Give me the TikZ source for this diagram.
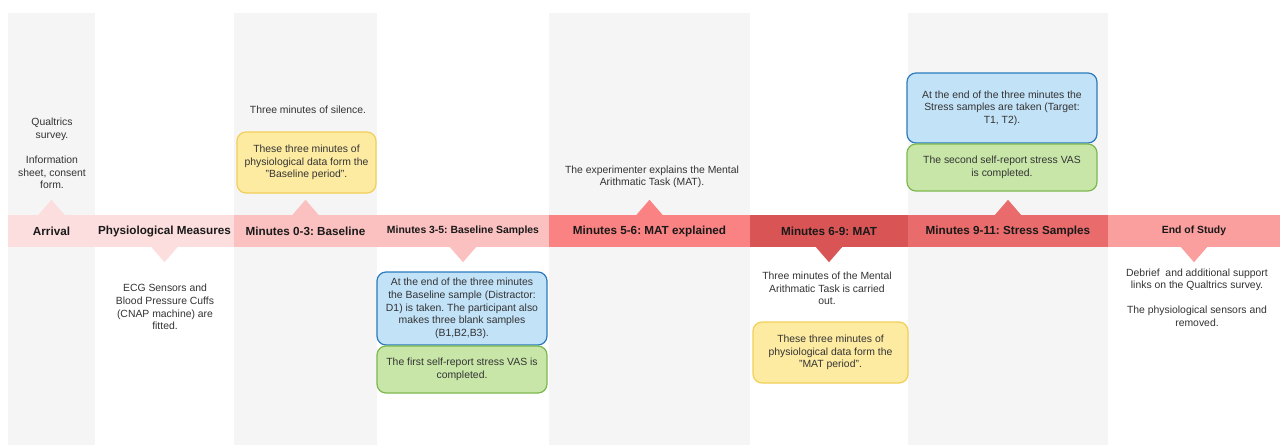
\documentclass[tikz,border=0pt]{standalone}
\usepackage{fontspec}
\setmainfont{Liberation Sans}
\frenchspacing
\definecolor{colgray}{HTML}{F5F5F5}
\definecolor{seglight}{HTML}{FDDEDE}
\definecolor{segbase}{HTML}{FBC0C0}
\definecolor{segmatexp}{HTML}{FA8282}
\definecolor{segmat}{HTML}{D95454}
\definecolor{segstress}{HTML}{E96B6B}
\definecolor{segend}{HTML}{FA9E9E}
\definecolor{bodytext}{HTML}{333333}
\definecolor{bluefill}{HTML}{C2E2F7}
\definecolor{blueline}{HTML}{2B7BBE}
\definecolor{greenfill}{HTML}{C8E6A8}
\definecolor{greenline}{HTML}{7DB84F}
\definecolor{yellowfill}{HTML}{FEEBA2}
\definecolor{yellowline}{HTML}{F3CF5A}
\begin{document}
\begin{tikzpicture}[x=1pt, y=-1pt,
    segment/.style={rectangle, inner sep=0pt, minimum height=32pt, text=black!90,
      font=\fontsize{11.7}{14}\selectfont\bfseries},
    smallseg/.style={segment, font=\fontsize{10.4}{12.6}\selectfont\bfseries},
    note/.style={align=center, text=bodytext, font=\fontsize{10.4}{12.6}\selectfont},
    notebox/.style={note, rectangle, rounded corners=9pt, line width=1.2pt, inner sep=2pt},
    yellowbox/.style={notebox, draw=yellowline, fill=yellowfill},
    bluebox/.style={notebox, draw=blueline, fill=bluefill},
    greenbox/.style={notebox, draw=greenline, fill=greenfill}]
    \useasboundingbox (0,0) rectangle (1286,445);
    \fill[white] (0,0) rectangle (1286,445);

    % Grey background columns
    \fill[colgray] (8,13) rectangle (95,445);
    \fill[colgray] (234,13) rectangle (377,445);
    \fill[colgray] (549,13) rectangle (750,445);
    \fill[colgray] (908,13) rectangle (1108,445);

    % Timeline band
    \node[segment, fill=seglight, minimum width=87pt] (arrival) at (51.5,231) {Arrival};
    \node[segment, fill=seglight, minimum width=139pt] (physio) at (164.5,231) {Physiological Measures};
    \node[segment, fill=segbase, minimum width=143pt] (baseline) at (305.5,231) {Minutes 0-3: Baseline};
    \node[smallseg, fill=segbase, minimum width=172pt] (samples) at (463,231) {Minutes 3-5: Baseline Samples};
    \node[segment, fill=segmatexp, minimum width=201pt] (matexp) at (649.5,231) {Minutes 5-6: MAT explained};
    \node[segment, fill=segmat, minimum width=158pt] (mat) at (829,231) {Minutes 6-9: MAT};
    \node[segment, fill=segstress, minimum width=200pt] (stress) at (1008,231) {Minutes 9-11: Stress Samples};
    \node[smallseg, fill=segend, minimum width=172pt] (endstudy) at (1194,231) {End of Study};

    % Pointers above and below the band
    \fill[seglight] (arrival.north) ++(-13,0) -- ++(13,-15) -- ++(13,15) -- cycle;
    \fill[seglight] (physio.south) ++(-13,0) -- ++(13,15) -- ++(13,-15) -- cycle;
    \fill[segbase] (baseline.north) ++(-13,0) -- ++(13,-15) -- ++(13,15) -- cycle;
    \fill[segbase] (samples.south) ++(-13,0) -- ++(13,15) -- ++(13,-15) -- cycle;
    \fill[segmatexp] (matexp.north) ++(-13,0) -- ++(13,-15) -- ++(13,15) -- cycle;
    \fill[segmat] (mat.south) ++(-13,0) -- ++(13,15) -- ++(13,-15) -- cycle;
    \fill[segstress] (stress.north) ++(-13,0) -- ++(13,-15) -- ++(13,15) -- cycle;
    \fill[segend] (endstudy.south) ++(-13,0) -- ++(13,15) -- ++(13,-15) -- cycle;

    % Descriptions
    \node[note] (arrivaltext) at (52,153.5) {Qualtrics\\survey.\\[12.6pt]Information\\sheet, consent\\form.};
    \node[note] (physiotext) at (165,307) {ECG Sensors and\\Blood Pressure Cuffs\\(CNAP machine) are\\fitted.};
    \node[note] (silence) at (308,110) {Three minutes of silence.};
    \node[yellowbox, minimum width=139pt, minimum height=61pt] (baseperiod) at (306.5,162.5)
      {These three minutes of\\physiological data form the\\"Baseline period".};
    \node[bluebox, minimum width=170pt, minimum height=73pt] (basesample) at (462,308.5)
      {At the end of the three minutes\\the Baseline sample (Distractor:\\D1) is taken. The participant also\\makes three blank samples\\(B1,B2,B3).};
    \node[greenbox, minimum width=170pt, minimum height=47pt] (firstvas) at (462,369.5)
      {The first self-report stress VAS is\\completed.};
    \node[note] (matexptext) at (652,177) {The experimenter explains the Mental\\Arithmatic Task (MAT).};
    \node[note] (mattext) at (827,288.5) {Three minutes of the Mental\\Arithmatic Task is carried\\out.};
    \node[yellowbox, minimum width=155pt, minimum height=61pt] (matperiod) at (830.5,352.5)
      {These three minutes of\\physiological data form the\\"MAT period".};
    \node[bluebox, minimum width=190pt, minimum height=70pt] (stresssample) at (1002,108)
      {At the end of the three minutes the\\Stress samples are taken (Target:\\T1, T2).};
    \node[greenbox, minimum width=190pt, minimum height=47pt] (secondvas) at (1002,167.5)
      {The second self-report stress VAS\\is completed.};
    \node[note] (endtext) at (1197,297.5) {Debrief~ and additional support\\links on the Qualtrics survey.\\[12.6pt]The physiological sensors and\\removed.};
\end{tikzpicture}
\end{document}
